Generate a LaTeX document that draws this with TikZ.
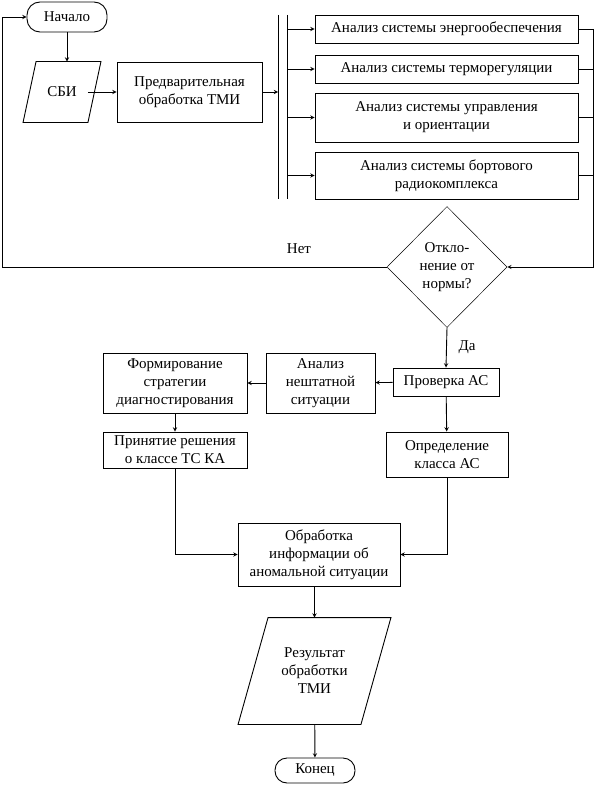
\documentclass[tikz,border=0pt]{standalone}
\usepackage{fontspec}
\setmainfont{LiberationSerif}[Extension=.ttf,UprightFont=*-Regular,BoldFont=*-Bold]
\usetikzlibrary{shapes.geometric}

\begin{document}
\begin{tikzpicture}[x=1pt,y=-1pt,>=stealth,line width=0.9pt,
  font=\fontsize{15}{18}\selectfont,
  blk/.style={draw,rectangle,align=center,inner sep=2pt},
  term/.style={draw,rectangle,rounded corners=13pt,align=center,inner sep=2pt},
  io/.style={rectangle,align=center,inner sep=0pt},
  cond/.style={draw,diamond,line width=0.5pt,align=center,inner sep=0pt}]
\useasboundingbox (0,0) rectangle (594,792);

\node[term,minimum width=80pt,minimum height=30pt] (NA) at (67,17) {Начало};
\node[io,minimum width=64pt,minimum height=60pt] (SB) at (62,92) {СБИ};
\draw ([xshift=6.5pt]SB.north west) -- ([xshift=6.5pt]SB.north east) -- ([xshift=-6.5pt]SB.south east) -- ([xshift=-6.5pt]SB.south west) -- cycle;
\node[blk,minimum width=145pt,minimum height=60pt] (PO) at (189.5,92) {Предварительная\\обработка ТМИ};

% shina
\coordinate (BL) at (278,15);
\coordinate (BR) at (287,15);
\draw (BL) -- (278,199);
\draw (BR) -- (287,199);

\node[blk,minimum width=263pt,minimum height=28pt] (A1) at (446.5,29) {Анализ системы энергообеспечения};
\node[blk,minimum width=263pt,minimum height=28pt] (A2) at (446.5,69) {Анализ системы терморегуляции};
\node[blk,minimum width=263pt,minimum height=49pt] (A3) at (446.5,117.5) {Анализ системы управления\\и ориентации};
\node[blk,minimum width=263pt,minimum height=47pt] (A4) at (446.5,175.5) {Анализ системы бортового\\радиокомплекса};
\coordinate (SR) at (593,29);

\node[cond,minimum width=120pt,minimum height=121pt] (OT) at (447,267) {Откло-\\нение от\\нормы?};

\node[blk,minimum width=106pt,minimum height=28pt] (PA) at (446,382) {Проверка АС};
\node[blk,minimum width=109pt,minimum height=60pt] (AN) at (320.5,383) {Анализ\\нештатной\\ситуации};
\node[blk,minimum width=144pt,minimum height=60pt] (FS) at (175,383) {Формирование\\стратегии\\диагностирования};
\node[blk,minimum width=144pt,minimum height=36pt] (PR) at (175,450) {Принятие решения\\о классе ТС КА};
\node[blk,minimum width=122pt,minimum height=45pt] (OK) at (447,454.5) {Определение\\класса АС};
\node[blk,minimum width=162pt,minimum height=63pt] (OI) at (319,554.5) {Обработка\\информации об\\аномальной ситуации};
\node[io,minimum width=122pt,minimum height=106pt] (RO) at (314.5,671) {Результат\\обработки\\ТМИ};
\draw ([xshift=15pt]RO.north west) -- ([xshift=15pt]RO.north east) -- ([xshift=-15pt]RO.south east) -- ([xshift=-15pt]RO.south west) -- cycle;
\node[term,minimum width=80pt,minimum height=25pt,rounded corners=12pt] (KO) at (315,770.5) {Конец};

\draw[->] (NA.south) -- (NA.south |- SB.north);
\draw[->] (SB.east) ++(-6.5pt,0) -- (PO);
\draw[->] (PO) -- (PO -| BL);
\draw[->] (BR |- A1) -- (A1);
\draw[->] (BR |- A2) -- (A2);
\draw[->] (BR |- A3) -- (A3);
\draw[->] (BR |- A4) -- (A4);
\draw (A1) -- (SR);
\draw (A2) -- (A2 -| SR);
\draw (A3) -- (A3 -| SR);
\draw (A4) -- (A4 -| SR);
\draw[->] (SR) |- (OT.east);

\draw[->] (OT.west) -- (2,267) |- (NA.west);
\node (NE) at (299,249) {Нет};
\draw[->] (OT.south) -- (PA.north);
\node (DA) at (467,347) {Да};

\draw[->] (PA) -- (AN);
\draw[->] (AN) -- (FS);
\draw[->] (FS) -- (PR);
\draw[->] (PA) -- (OK);
\draw[->] (PR.south) |- (OI.west);
\draw[->] (OK.south) |- (OI.east);
\draw[->] (OI.south -| RO) -- (RO.north);
\draw[->] (RO) -- (KO);

\end{tikzpicture}
\end{document}
